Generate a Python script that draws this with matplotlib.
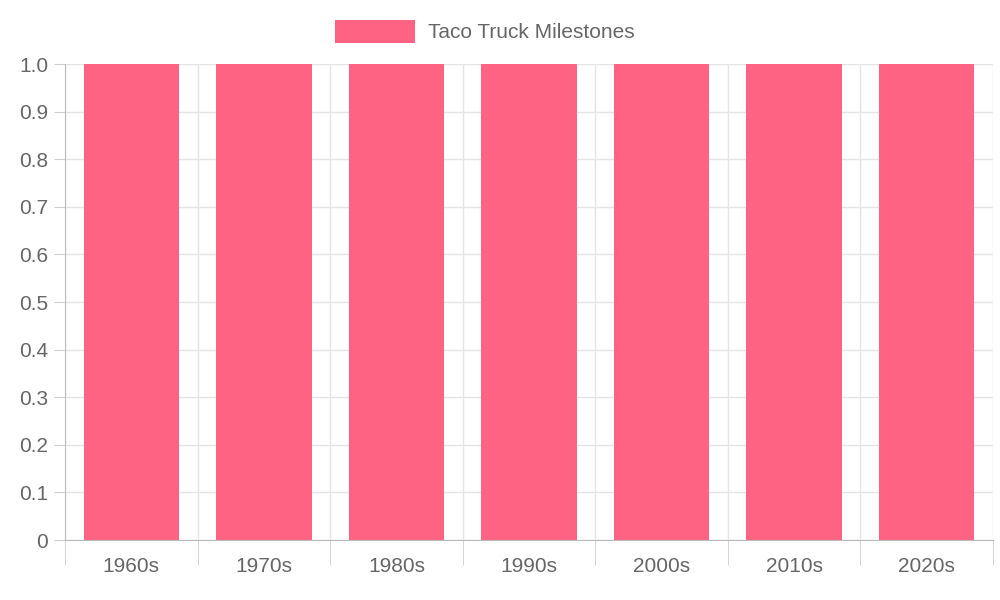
import matplotlib
matplotlib.use("Agg")
import matplotlib.pyplot as plt
from matplotlib.patches import Rectangle
import numpy as np

categories = ["1960s", "1970s", "1980s", "1990s", "2000s", "2010s", "2020s"]
values = [1, 1, 1, 1, 1, 1, 1]
series_name = "Taco Truck Milestones"
color = "#FF6384"

plt.rcParams['font.family'] = ['Liberation Sans', 'DejaVu Sans']
fig = plt.figure(figsize=(10, 6), dpi=100)
ax = fig.add_axes([0.065, 0.1, 0.928, 0.7933])
x = np.arange(len(categories))
ax.bar(x, values, width=0.72, color=color, zorder=2)
ax.set_xlim(-0.5, len(categories) - 0.5)
ax.set_ylim(0, 1)
ax.set_yticks(np.arange(0, 1.01, 0.1))
ax.set_yticklabels(["0"] + [f"{v:.1f}" for v in np.arange(0.1, 1.01, 0.1)])
ax.set_xticks(x)
ax.set_xticklabels(categories)
ax.set_xticks(np.arange(-0.5, len(categories), 1), minor=True)
ax.tick_params(axis='x', which='major', length=0, pad=12, labelsize=15, colors='#666666')
ax.tick_params(axis='x', which='minor', length=18, color='#cccccc')
ax.tick_params(axis='y', length=8, color='#cccccc', labelsize=15, colors='#666666', pad=4)
ax.grid(True, which='minor', axis='x', color='#e5e5e5', lw=1, zorder=0)
ax.grid(True, which='major', axis='y', color='#e5e5e5', lw=1, zorder=0)
for s in ['top', 'right']:
    ax.spines[s].set_visible(False)
for s in ['left', 'bottom']:
    ax.spines[s].set_color('#bbbbbb')
# legend
fig.patches.append(Rectangle((0.335, 1 - 43/600), 0.08, 23/600, transform=fig.transFigure,
                             facecolor=color, edgecolor='none'))
fig.text(0.428, 1 - 32/600, series_name, fontsize=15, color='#666666', va='center', ha='left')
fig.savefig("out.png", dpi=100)
